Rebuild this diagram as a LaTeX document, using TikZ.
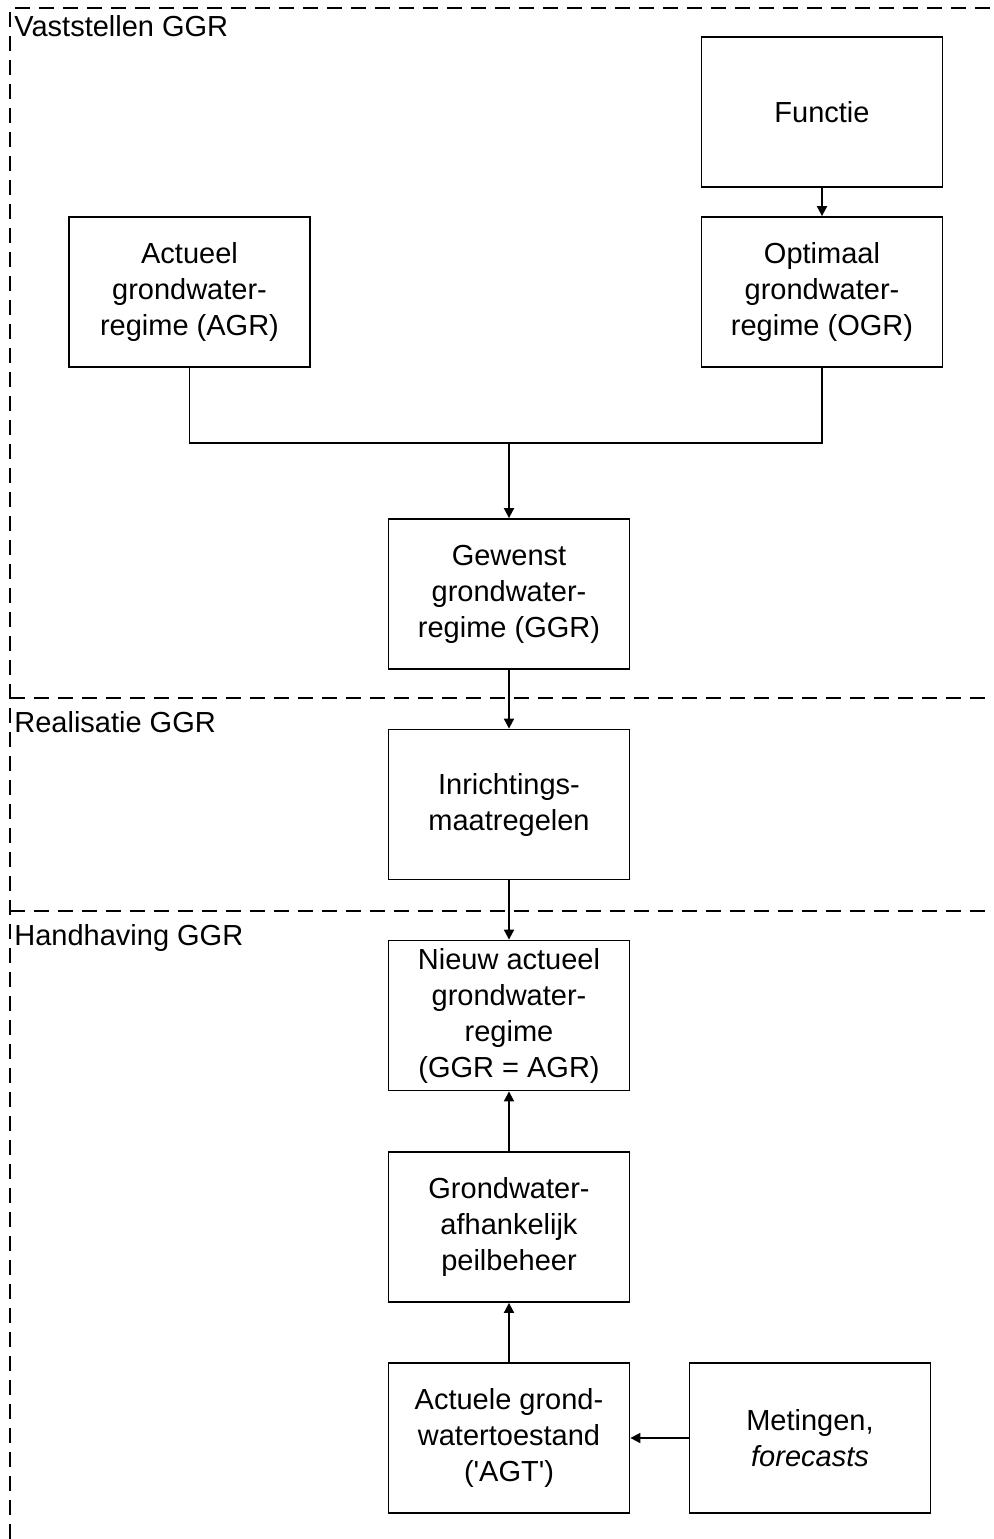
\documentclass[tikz,border=0pt]{standalone}
\usepackage{fontspec}
\setmainfont{Liberation Sans}
\usetikzlibrary{arrows.meta,positioning}

\begin{document}
\begin{tikzpicture} [x=0.5pt, y=-0.5pt,
        font=\fontsize{14.5}{18}\selectfont,
        box/.style={draw, line width=0.9pt, align=center, inner sep=0pt,
          minimum width=120.5pt, minimum height=75pt},
        flow/.style={line width=0.9pt, -{Triangle[length=5pt, width=5pt]}},
        border/.style={line width=0.9pt, dash pattern=on 7.5pt off 4.5pt},
        phase/.style={anchor=base west, inner sep=0pt}]
        \useasboundingbox (0,0) rectangle (994,1539);
        % phase borders
        \draw[border] (10,1539) -- (10,8) -- (994,8);
        \foreach \y in {698, 911} {
          \draw[border] (10,\y) -- (994,\y);
        };
        \node[phase] (vast) at (14,36) {Vaststellen GGR};
        \node[phase] (real) at (14,732) {Realisatie GGR};
        \node[phase] (hand) at (14,945) {Handhaving GGR};
        % boxes
        \node[box] (functie) at (822,112) {Functie};
        \node[box] (ogr) at (822,292) {Optimaal\\grondwater-\\regime (OGR)};
        \node[box] (agr) at (189.5,292) {Actueel\\grondwater-\\regime (AGR)};
        \node[box] (ggr) at (509,594) {Gewenst\\grondwater-\\regime (GGR)};
        \node[box] (inricht) at (509,804.5) {Inrichtings-\\maatregelen};
        \node[box] (nieuw) at (509,1015.5) {Nieuw actueel\\grondwater-\\regime\\(GGR = AGR)};
        \node[box] (peil) at (509,1227) {Grondwater-\\afhankelijk\\peilbeheer};
        \node[box] (agt) at (509,1438) {Actuele grond-\\watertoestand\\(\textquotesingle AGT\textquotesingle)};
        \node[box] (meting) at (810,1438) {Metingen,\\\textit{forecasts}};
        % connectors
        \coordinate (join) at (509,443);
        \draw[line width=0.9pt] (agr.south) |- (join) -| (ogr.south);
        \draw[flow] (join) -- (ggr);
        \draw[flow] (functie) -- (ogr);
        \draw[flow] (ggr) -- (inricht);
        \draw[flow] (inricht) -- (nieuw);
        \draw[flow] (peil) -- (nieuw);
        \draw[flow] (agt) -- (peil);
        \draw[flow] (meting) -- (agt);
      \end{tikzpicture}
\end{document}
